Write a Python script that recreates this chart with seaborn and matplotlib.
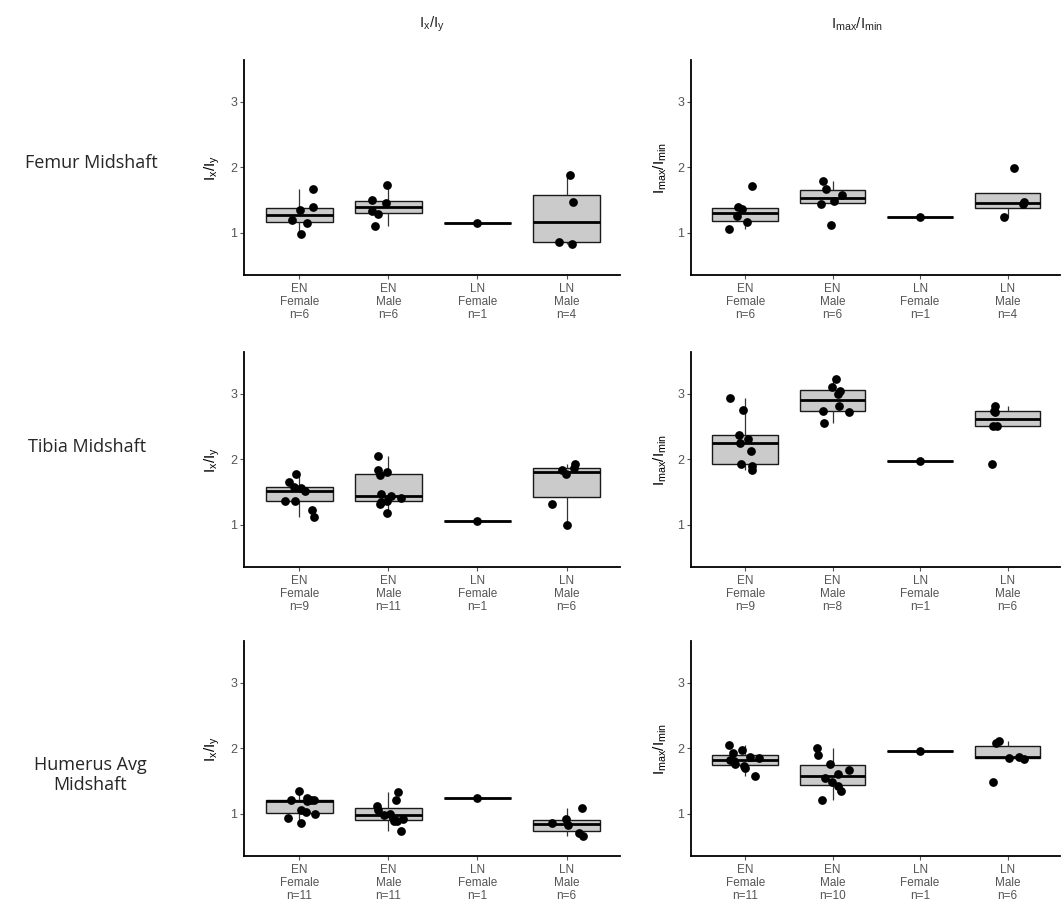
import numpy as np
import pandas as pd
import matplotlib
matplotlib.use("Agg")
import matplotlib.pyplot as plt
import seaborn as sns

# categories
bones = ["Femur Midshaft", "Tibia Midshaft", "Humerus Avg\nMidshaft"]
groups = ["EN Female", "EN Male", "LN Female", "LN Male"]
metrics = ["Ix/Iy", "Imax/Imin"]
metric_labels = [r"$\mathregular{I_x/I_y}$", r"$\mathregular{I_{max}/I_{min}}$"]

# values per group (EN Female, EN Male, LN Female, LN Male)
femur_ixiy = [
    [0.98, 1.15, 1.19, 1.34, 1.39, 1.67],
    [1.10, 1.29, 1.33, 1.45, 1.50, 1.72],
    [1.14],
    [0.82, 0.86, 1.47, 1.88],
]
femur_imax = [
    [1.06, 1.16, 1.25, 1.36, 1.39, 1.71],
    [1.12, 1.43, 1.49, 1.57, 1.67, 1.79],
    [1.23],
    [1.24, 1.43, 1.47, 1.99],
]
tibia_ixiy = [
    [1.11, 1.22, 1.36, 1.36, 1.52, 1.56, 1.57, 1.65, 1.78],
    [1.17, 1.31, 1.35, 1.36, 1.40, 1.43, 1.47, 1.76, 1.80, 1.84, 2.05],
    [1.06],
    [1.00, 1.31, 1.77, 1.83, 1.87, 1.92],
]
tibia_imax = [
    [1.84, 1.89, 1.93, 2.12, 2.24, 2.31, 2.37, 2.76, 2.94],
    [2.55, 2.72, 2.74, 2.81, 2.99, 3.04, 3.11, 3.22],
    [1.97],
    [1.92, 2.50, 2.51, 2.72, 2.74, 2.82],
]
humerus_ixiy = [
    [0.85, 0.93, 1.00, 1.03, 1.05, 1.19, 1.20, 1.20, 1.21, 1.24, 1.35],
    [0.74, 0.88, 0.89, 0.91, 0.93, 0.98, 0.99, 1.05, 1.11, 1.21, 1.33],
    [1.24],
    [0.65, 0.70, 0.82, 0.85, 0.92, 1.09],
]
humerus_imax = [
    [1.58, 1.70, 1.72, 1.76, 1.81, 1.82, 1.85, 1.86, 1.93, 1.97, 2.05],
    [1.21, 1.35, 1.42, 1.49, 1.54, 1.60, 1.66, 1.76, 1.90, 2.00],
    [1.95],
    [1.48, 1.84, 1.85, 1.87, 2.08, 2.11],
]

panel_data = {
    (bones[0], metrics[0]): femur_ixiy,
    (bones[0], metrics[1]): femur_imax,
    (bones[1], metrics[0]): tibia_ixiy,
    (bones[1], metrics[1]): tibia_imax,
    (bones[2], metrics[0]): humerus_ixiy,
    (bones[2], metrics[1]): humerus_imax,
}

rows = []
for (bone, metric), lists in panel_data.items():
    for g, vals in zip(groups, lists):
        for v in vals:
            rows.append({"bone": bone, "metric": metric, "group": g, "value": v})
df = pd.DataFrame(rows)

sns.set_theme(style="white")
plt.rcParams["font.family"] = ["Liberation Sans", "DejaVu Sans"]
np.random.seed(3)

fig = plt.figure(figsize=(10.62, 9.14), dpi=100)
W, H = 1062, 914
col_x = [244, 691]
col_w = [376, 369]
row_top = [60, 352, 641]
row_h = 215

for r, bone in enumerate(bones):
    for c, metric in enumerate(metrics):
        ax = fig.add_axes([col_x[c] / W, 1 - (row_top[r] + row_h) / H,
                           col_w[c] / W, row_h / H])
        sub = df[(df["bone"] == bone) & (df["metric"] == metric)]
        sns.boxplot(data=sub, x="group", y="value", order=groups, ax=ax,
                    width=0.75, color="#cbcbcb", linecolor="#1a1a1a",
                    linewidth=1.0, showfliers=False, showcaps=False,
                    medianprops={"color": "black", "linewidth": 2.0},
                    whiskerprops={"color": "#333333", "linewidth": 0.9},
                    saturation=1)
        sns.stripplot(data=sub, x="group", y="value", order=groups, ax=ax,
                      color="black", size=6.3, jitter=0.2)
        counts = sub.groupby("group")["value"].count()
        labels = [f"{g.split()[0]}\n{g.split()[1]}\nn={counts[g]}" for g in groups]
        ax.set_xticks(range(len(groups)))
        ax.set_xticklabels(labels, fontsize=8.5, color="#555555", linespacing=1.12)
        ax.set_xlim(-0.62, 3.6)
        ax.set_ylim(0.35, 3.64)
        ax.set_yticks([1, 2, 3])
        ax.set_yticklabels(["1", "2", "3"], fontsize=9, color="#555555")
        ax.set_xlabel("")
        ax.set_ylabel(metric_labels[c], fontsize=11, color="black", labelpad=6)
        for side in ["top", "right"]:
            ax.spines[side].set_visible(False)
        for side in ["left", "bottom"]:
            ax.spines[side].set_color("black")
            ax.spines[side].set_linewidth(1.3)
        ax.tick_params(axis="both", length=3, width=0.8, color="#555555",
                       bottom=True, left=True)
        ax.tick_params(axis="x", pad=2.5)
        ax.tick_params(axis="y", pad=2)

# column titles
fig.text(432 / W, 1 - 24 / H, metric_labels[0], ha="center", va="center", fontsize=11)
fig.text(857 / W, 1 - 24 / H, metric_labels[1], ha="center", va="center", fontsize=11)

# row labels
row_label_y = [163, 447, 775]
row_label_x = [91, 87, 90]
for bone, x, y in zip(bones, row_label_x, row_label_y):
    fig.text(x / W, 1 - y / H, bone, ha="center", va="center", fontsize=13,
             family=["Open Sans", "DejaVu Sans"], linespacing=1.2)

fig.savefig("out.png", dpi=100, facecolor="white")
